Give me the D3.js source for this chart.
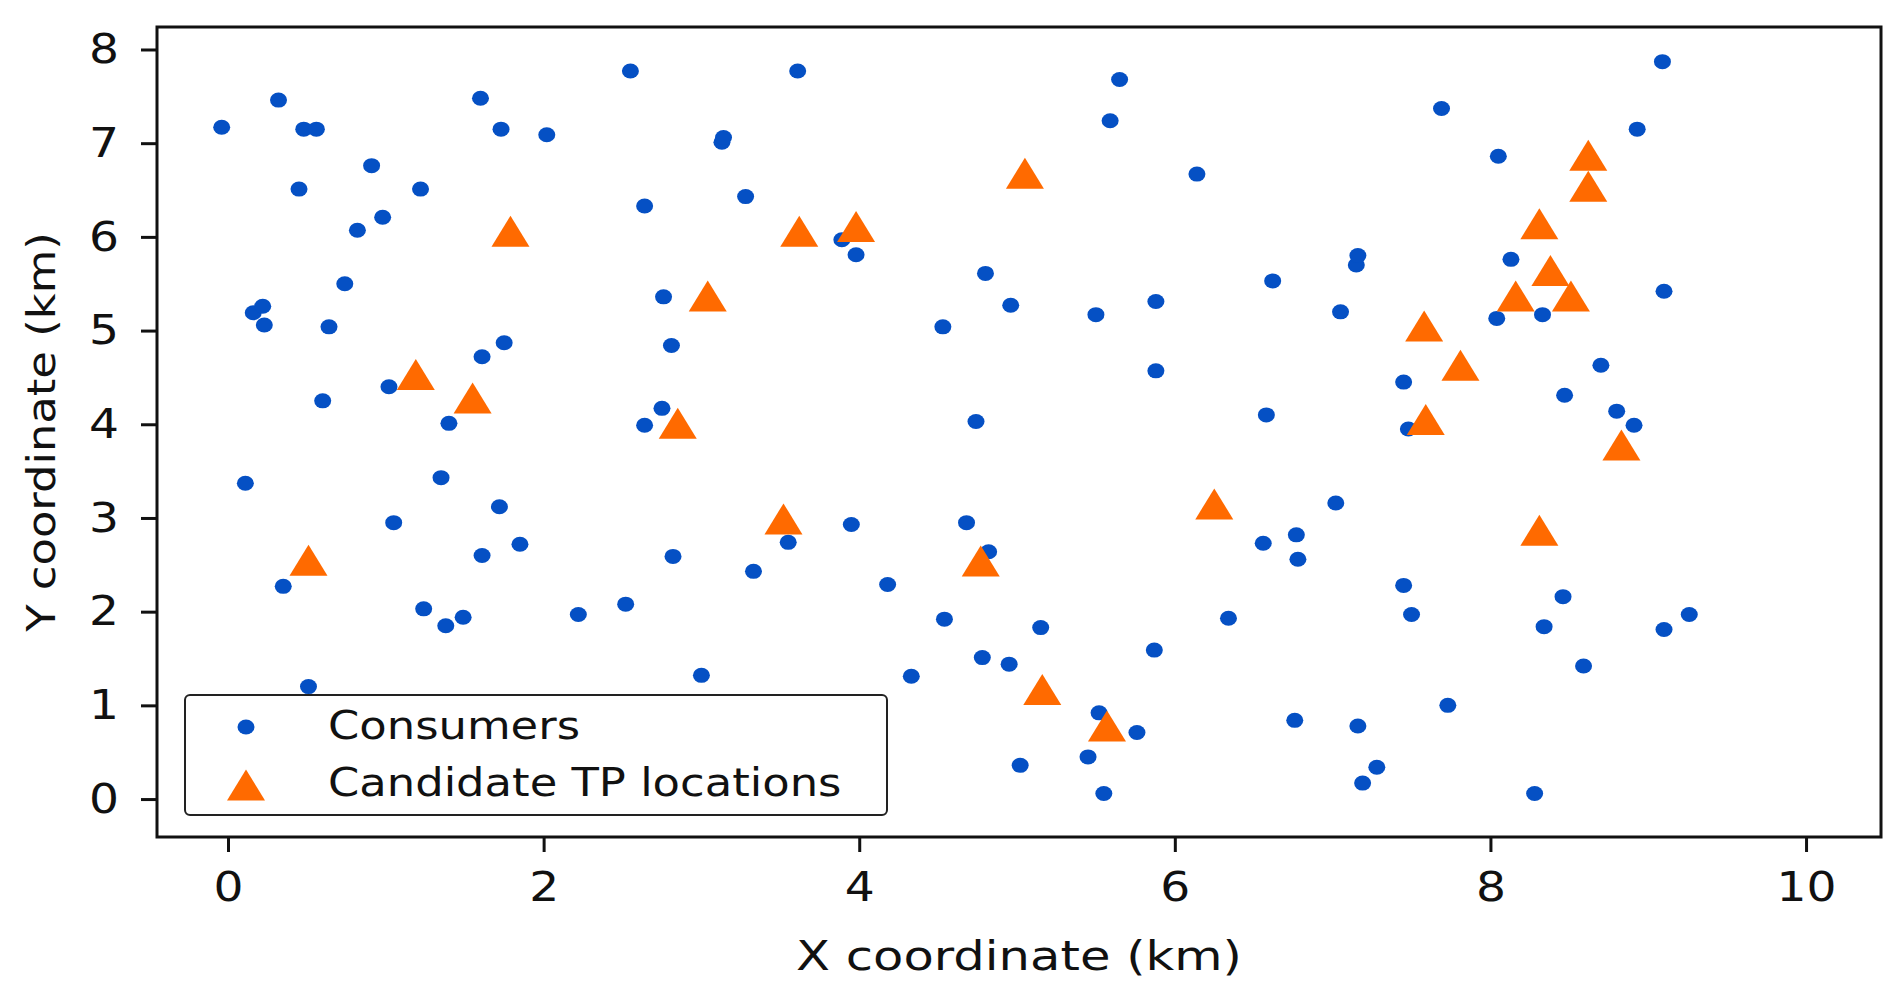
<!DOCTYPE html>
<html>
<head>
<meta charset="utf-8">
<script src="https://cdn.jsdelivr.net/npm/d3@7"></script>
<style>
  html, body { margin: 0; padding: 0; background: #fff; }
  svg { display: block; }
  text { font-family: "DejaVu Sans", sans-serif; fill: #111; }
</style>
</head>
<body>
<svg id="chart" width="1903" height="1004"></svg>
<script>
// consumers (km)
var consumerX = [-0.04, 0.32, 0.48, 0.56, 0.45, 0.91, 0.82, 0.98, 1.22, 0.74,
  0.16, 0.22, 0.23, 0.64, 0.60, 1.02, 0.11, 0.35, 0.51, 1.05,
  1.24, 1.38, 1.49, 1.40, 1.35, 1.61, 1.75, 1.60, 1.73, 2.02,
  1.72, 1.61, 1.85, 2.22, 2.52, 2.55, 2.64, 2.76, 2.81, 2.64,
  2.75, 2.82, 3.00, 3.13, 3.14, 3.28, 3.33, 3.61, 3.55, 3.89,
  3.98, 3.95, 4.18, 4.33, 4.53, 4.54, 4.68, 4.74, 4.80, 4.82,
  4.78, 4.95, 4.96, 5.15, 5.02, 5.45, 5.50, 5.52, 5.55, 5.59,
  5.65, 5.76, 5.88, 5.88, 5.87, 6.14, 6.34, 6.58, 6.56, 6.62,
  6.77, 6.78, 6.76, 7.02, 7.05, 7.15, 7.16, 7.16, 7.28, 7.19,
  7.45, 7.48, 7.45, 7.50, 7.69, 7.73, 8.05, 8.04, 8.13, 8.33,
  8.28, 8.34, 8.46, 8.47, 8.59, 8.70, 8.80, 8.91, 8.93, 9.09,
  9.10, 9.10, 9.26];
var consumerY = [7.17, 7.46, 7.15, 7.15, 6.51, 6.76, 6.07, 6.21, 6.51, 5.50,
  5.19, 5.26, 5.06, 5.04, 4.25, 4.40, 3.37, 2.27, 1.20, 2.95,
  2.03, 1.85, 1.94, 4.01, 3.43, 4.72, 4.87, 7.48, 7.15, 7.09,
  3.12, 2.60, 2.72, 1.97, 2.08, 7.77, 6.33, 5.36, 4.84, 3.99,
  4.17, 2.59, 1.32, 7.01, 7.06, 6.43, 2.43, 7.77, 2.74, 5.97,
  5.81, 2.93, 2.29, 1.31, 5.04, 1.92, 2.95, 4.03, 5.61, 2.64,
  1.51, 1.44, 5.27, 1.83, 0.36, 0.45, 5.17, 0.92, 0.06, 7.24,
  7.68, 0.71, 4.57, 5.31, 1.59, 6.67, 1.93, 4.10, 2.73, 5.53,
  2.82, 2.56, 0.84, 3.16, 5.20, 5.70, 5.80, 0.78, 0.34, 0.17,
  4.45, 3.95, 2.28, 1.97, 7.37, 1.00, 6.86, 5.13, 5.76, 5.17,
  0.06, 1.84, 2.16, 4.31, 1.42, 4.63, 4.14, 3.99, 7.15, 7.87,
  5.42, 1.81, 1.97];

// candidate TP locations (km)
var candidateX = [0.51, 1.19, 1.55, 1.79, 2.85, 3.04, 3.52, 3.62, 3.98, 4.77,
  5.05, 5.16, 5.57, 6.25, 7.58, 7.59, 7.81, 8.16, 8.31, 8.38,
  8.51, 8.31, 8.62, 8.62, 8.83];
var candidateY = [2.55, 4.53, 4.28, 6.06, 4.01, 5.37, 2.99, 6.06, 6.11, 2.54,
  6.68, 1.17, 0.78, 3.15, 5.05, 4.05, 4.63, 5.37, 6.14, 5.64,
  5.37, 2.87, 6.87, 6.54, 3.78];

var xTicks = [0, 2, 4, 6, 8, 10];
var yTicks = [0, 1, 2, 3, 4, 5, 6, 7, 8];
var seriesNames = ["Consumers", "Candidate TP locations"];

var BLUE = "#0550c4";
var ORANGE = "#ff6a00";
var STRETCH = 1.15;   // reference text is a bit wide

var svg = d3.select("#chart");

var plotLeft = 157, plotRight = 1881, plotTop = 27, plotBottom = 837;

var x = d3.scaleLinear().domain([-0.45, 10.475]).range([plotLeft, plotRight]);
var y = d3.scaleLinear().domain([-0.405, 8.24]).range([plotBottom, plotTop]);

function stretchedText(g, px, py, str, size, anchor, sx) {
  return g.append("text")
    .attr("transform", "translate(" + px + "," + py + ") scale(" + (sx || STRETCH) + ",1)")
    .attr("text-anchor", anchor || "start")
    .attr("font-size", size)
    .text(str);
}

function triPath(w, h) {
  return "M0," + (-h / 2) + "L" + (w / 2) + "," + (h / 2) + "L" + (-w / 2) + "," + (h / 2) + "Z";
}

// points
var consumers = consumerX.map(function(d, i) { return { x: d, y: consumerY[i] }; });
var candidates = candidateX.map(function(d, i) { return { x: d, y: candidateY[i] }; });

svg.append("g").attr("class", "consumers")
  .selectAll("ellipse")
  .data(consumers)
  .enter()
  .append("ellipse")
  .attr("cx", function(d) { return x(d.x); })
  .attr("cy", function(d) { return y(d.y); })
  .attr("rx", 8.5)
  .attr("ry", 7.5)
  .attr("fill", BLUE);

svg.append("g").attr("class", "candidates")
  .selectAll("path")
  .data(candidates)
  .enter()
  .append("path")
  .attr("d", triPath(38, 31))
  .attr("transform", function(d) { return "translate(" + x(d.x) + "," + y(d.y) + ")"; })
  .attr("fill", ORANGE);

// axes
var xAxis = svg.append("g")
  .attr("transform", "translate(0," + plotBottom + ")")
  .call(d3.axisBottom(x).tickValues(xTicks).tickSize(15).tickPadding(20).tickFormat(d3.format("d")));

var yAxis = svg.append("g")
  .attr("transform", "translate(" + plotLeft + ",0)")
  .call(d3.axisLeft(y).tickValues(yTicks).tickSize(16).tickPadding(22).tickFormat(d3.format("d")));

[xAxis, yAxis].forEach(function(a) {
  a.select(".domain").remove();
  a.selectAll(".tick line").attr("stroke", "#111").attr("stroke-width", 3);
  a.selectAll(".tick text")
    .attr("font-family", "DejaVu Sans, sans-serif")
    .attr("font-size", 41)
    .attr("fill", "#111");
});
xAxis.selectAll(".tick text").attr("transform", "scale(" + STRETCH + ",1)");
yAxis.selectAll(".tick text")
  .attr("x", -38 / STRETCH)
  .attr("transform", "scale(" + STRETCH + ",1)");

// frame
svg.append("rect")
  .attr("x", plotLeft).attr("y", plotTop)
  .attr("width", plotRight - plotLeft).attr("height", plotBottom - plotTop)
  .attr("fill", "none").attr("stroke", "#111").attr("stroke-width", 3);

// axis labels
stretchedText(svg, (plotLeft + plotRight) / 2, 970, "X coordinate (km)", 41, "middle", 1.21);
svg.append("text")
  .attr("transform", "translate(55," + ((plotTop + plotBottom) / 2) + ") rotate(-90) scale(" + STRETCH + ",1)")
  .attr("text-anchor", "middle")
  .attr("font-size", 39)
  .text("Y coordinate (km)");

// legend
var lg = svg.append("g").attr("class", "legend");
lg.append("rect")
  .attr("x", 185).attr("y", 695)
  .attr("width", 702).attr("height", 120)
  .attr("rx", 5)
  .attr("fill", "#fff").attr("fill-opacity", 0.85)
  .attr("stroke", "#222").attr("stroke-width", 2);

lg.append("ellipse")
  .attr("cx", 246).attr("cy", 727)
  .attr("rx", 8.5).attr("ry", 7.5)
  .attr("fill", BLUE);
lg.append("path")
  .attr("d", triPath(38, 31))
  .attr("transform", "translate(246,785)")
  .attr("fill", ORANGE);

stretchedText(lg, 328, 739, seriesNames[0], 39);
stretchedText(lg, 328, 796, seriesNames[1], 39);
</script>
</body>
</html>
